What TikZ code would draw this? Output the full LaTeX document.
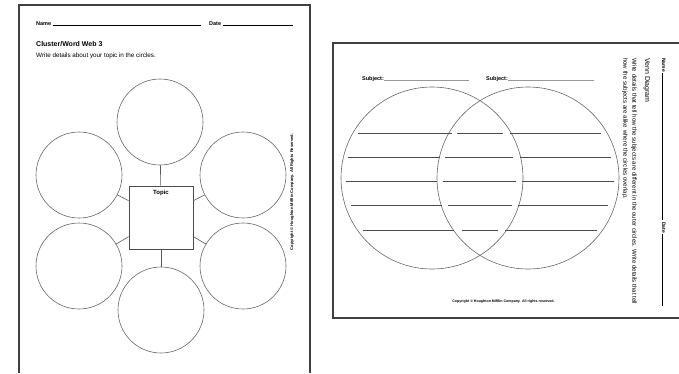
\documentclass[tikz,border=0pt]{standalone}
\usepackage{fontspec}
\setmainfont{Liberation Sans}
\usepackage{xcolor}
\usepackage{tikz}
\usetikzlibrary{positioning}

\newcommand{\fsz}[1]{\fontsize{#1}{#1}\selectfont}

\begin{document}
\begin{tikzpicture}[
      x=1pt, y=-1pt,
      page/.style={draw=black!75, line width=1.3pt},
      bubble/.style={circle, draw=black!60, line width=0.6pt, minimum size=86pt, inner sep=0pt},
      topicbox/.style={rectangle, draw=black!70, line width=0.8pt, minimum width=64pt, minimum height=63pt, inner sep=0pt},
      link/.style={draw=black!65, line width=0.6pt},
      venn/.style={circle, draw=black!60, line width=0.6pt, minimum size=182pt, inner sep=0pt},
      rowline/.style={draw=black!70, line width=0.8pt},
      txt/.style={inner sep=0pt, font=\fsz{5.5}},
      tiny/.style={inner sep=0pt, font=\fsz{3.6}\bfseries}
    ]
    \useasboundingbox (0,0) rectangle (679,373);

    % cluster / word web sheet
    \draw[page] (19,373) -- (19,5) -- (310,5) -- (310,373);
    \node[txt, anchor=base west, font=\fsz{5.5}\bfseries] (name1) at (36,25)
      {Name \rule[-0.5pt]{148pt}{0.4pt}};
    \node[txt, anchor=base west, font=\fsz{5.5}\bfseries] (date1) at (209,25)
      {Date \rule[-0.5pt]{70pt}{0.4pt}};
    \node[txt, anchor=base west, font=\fsz{7}\bfseries] (title1) at (36,46)
      {Cluster/Word Web 3};
    \node[txt, anchor=base west, font=\fsz{6.3}] (instr1) at (36,57)
      {Write details about your topic in the circles.};

    \node[bubble] (ctop) at (160,122) {};
    \node[bubble] (cul) at (79,175) {};
    \node[bubble] (cur) at (243,175) {};
    \node[bubble] (cll) at (79,266) {};
    \node[bubble] (clr) at (243,266) {};
    \node[bubble] (cbot) at (161,310) {};
    \node[topicbox] (topic) at (161,217.5) {};
    \node[txt, font=\fsz{6}\bfseries, below=4pt of topic.north] (topiclbl) {Topic};

    \foreach \c in {ctop,cul,cur,cll,clr,cbot}
      \draw[link] (topic) -- (\c);

    \node[tiny, font=\fsz{4}\bfseries, rotate=90] (copy1) at (292,192)
      {Copyright \copyright{} Houghton Mifflin Company. All Rights Reserved.};

    % venn diagram sheet
    \draw[page, line width=1.1pt] (679,43) -- (333,43) -- (333,318) -- (679,318);
    \node[txt, anchor=base west, font=\fsz{5.5}\bfseries] (subj1) at (362,80)
      {Subject:\textcolor{black!40}{\rule[-0.5pt]{85pt}{0.3pt}}};
    \node[txt, anchor=base west, font=\fsz{5.5}\bfseries] (subj2) at (486,80)
      {Subject:\textcolor{black!40}{\rule[-0.5pt]{86pt}{0.3pt}}};

    \node[venn] (vleft) at (432,178) {};
    \node[venn] (vright) at (528,178) {};

    \foreach \y/\a/\b/\c/\d/\e/\f in {
        133/358/452/457/503/510/601,
        157/348/440/445/513/520/611,
        181/346/437/443/516/522/614,
        205/351/442/448/512/518/608,
        230/363/454/462/498/505/597}{
      \draw[rowline] (\a,\y) -- (\b,\y);
      \draw[rowline] (\c,\y) -- (\d,\y);
      \draw[rowline] (\e,\y) -- (\f,\y);
    }

    \node[tiny] (copy2) at (503.5,302)
      {Copyright \copyright{} Houghton Mifflin Company. All rights reserved.};

    \node[txt, rotate=-90, anchor=base west, font=\fsz{5}\bfseries] (name2) at (662,58)
      {Name \rule[-0.5pt]{147pt}{0.4pt}};
    \node[txt, rotate=-90, anchor=base west, font=\fsz{5}\bfseries] (date2) at (662,222)
      {Date \rule[-0.5pt]{72pt}{0.4pt}};
    \node[txt, rotate=-90, anchor=west, font=\fsz{7}] (title2) at (647,58)
      {Venn Diagram};
    \node[txt, rotate=-90, anchor=west, font=\fsz{6.1}] (instr2) at (634,58)
      {Write details that tell how the subjects are different in the outer circles. Write details that tell};
    \node[txt, rotate=-90, anchor=west, font=\fsz{6.1}] (instr3) at (625,58)
      {how the subjects are alike where the circles overlap.};
  \end{tikzpicture}
\end{document}
